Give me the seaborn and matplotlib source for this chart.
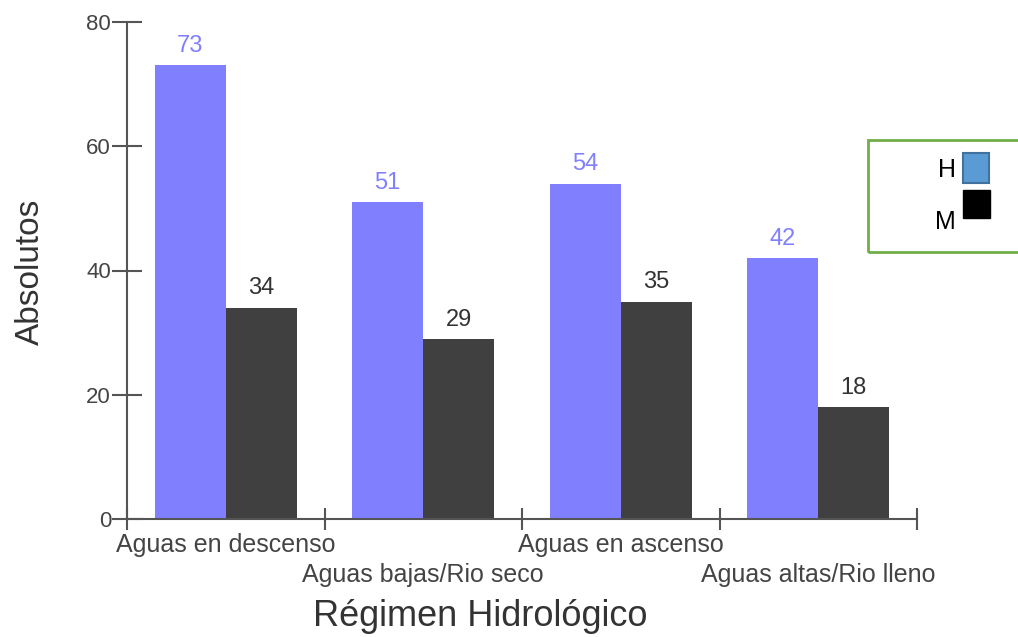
import matplotlib
matplotlib.use("Agg")
import matplotlib.pyplot as plt
from matplotlib.patches import Rectangle
import seaborn as sns
import pandas as pd

# Data
regimes = ["Aguas en descenso", "Aguas bajas/Rio seco", "Aguas en ascenso", "Aguas altas/Rio lleno"]
sexes = ["H", "M"]
h_values = [73, 51, 54, 42]
m_values = [34, 29, 35, 18]
y_ticks = [0, 20, 40, 60, 80]

df = pd.DataFrame({
    "regimen": regimes * 2,
    "sexo": ["H"] * len(regimes) + ["M"] * len(regimes),
    "valor": h_values + m_values,
})

sns.set_theme(style="white")
plt.rcParams["font.family"] = ["Liberation Sans", "DejaVu Sans"]

bar_colors = {"H": "#8080ff", "M": "#404040"}
label_colors = {"H": "#8080ff", "M": "#333333"}
axis_color = "#555555"
text_color = "#444444"

fig = plt.figure(figsize=(10.18, 6.37), dpi=100)
ax = fig.add_axes([127 / 1018, 118 / 637, 790 / 1018, 497 / 637])

sns.barplot(data=df, x="regimen", y="valor", hue="sexo", order=regimes,
            hue_order=sexes, palette=bar_colors, width=0.72, saturation=1,
            errorbar=None, legend=False, ax=ax, linewidth=0)

# value labels above each bar
for container, s in zip(ax.containers, sexes):
    ax.bar_label(container, labels=[str(int(v)) for v in container.datavalues],
                 padding=6, fontsize=17, color=label_colors[s])

ax.set_xlim(-0.5, len(regimes) - 0.5)
ax.set_ylim(0, 80)

# group boundary ticks with staggered category labels
ax.set_xticks([i - 0.5 for i in range(len(regimes) + 1)])
ax.set_xticklabels([])
ax.set_xticks(range(len(regimes)), minor=True)
ax.set_xticklabels(regimes, minor=True, fontsize=18, color=text_color)
ax.tick_params(axis="x", which="major", bottom=True, direction="inout", length=16,
               width=1.5, color=axis_color)
ax.tick_params(axis="x", which="minor", bottom=True, length=0)
for i, tick in enumerate(ax.xaxis.get_minor_ticks()):
    tick.set_pad(10 if i % 2 == 0 else 32)

ax.set_yticks(y_ticks)
ax.set_yticklabels([str(v) for v in y_ticks], fontsize=16, color=text_color)
ax.tick_params(axis="y", left=True, direction="inout", length=21, width=1.5,
               color=axis_color, pad=1)

for side in ["top", "right"]:
    ax.spines[side].set_visible(False)
for side in ["left", "bottom"]:
    ax.spines[side].set_color(axis_color)
    ax.spines[side].set_linewidth(1.5)

ax.set_xlabel("Régimen Hidrológico", fontsize=26, color="#333333")
ax.set_ylabel("Absolutos", fontsize=24, color="#333333")
ax.xaxis.set_label_coords((480 - 127) / 790, -(616 - 519) / 497)
ax.xaxis.label.set_va("center")
ax.yaxis.set_label_coords(-(127 - 30) / 790, (519 - 272) / 497)
ax.yaxis.label.set_va("center")

# legend box
W, Hh = 1018, 637
def fx(x):
    return x / W
def fy(y):
    return 1 - y / Hh

fig.patches.append(Rectangle((fx(868), fy(252)), fx(1030) - fx(868), fy(140) - fy(252),
                             transform=fig.transFigure, fill=False,
                             edgecolor="#70ad47", linewidth=2, clip_on=False))
fig.patches.append(Rectangle((fx(963), fy(183)), fx(989) - fx(963), fy(153) - fy(183),
                             transform=fig.transFigure, facecolor="#5b9bd5",
                             edgecolor="#41719c", linewidth=1.5))
fig.patches.append(Rectangle((fx(963), fy(218)), fx(990) - fx(963), fy(190) - fy(218),
                             transform=fig.transFigure, facecolor="black",
                             edgecolor="black", linewidth=1))
fig.text(fx(956), fy(170), sexes[0], ha="right", va="center", fontsize=18, color="black")
fig.text(fx(956), fy(222), sexes[1], ha="right", va="center", fontsize=18, color="black")

fig.savefig("out.png", dpi=100)
